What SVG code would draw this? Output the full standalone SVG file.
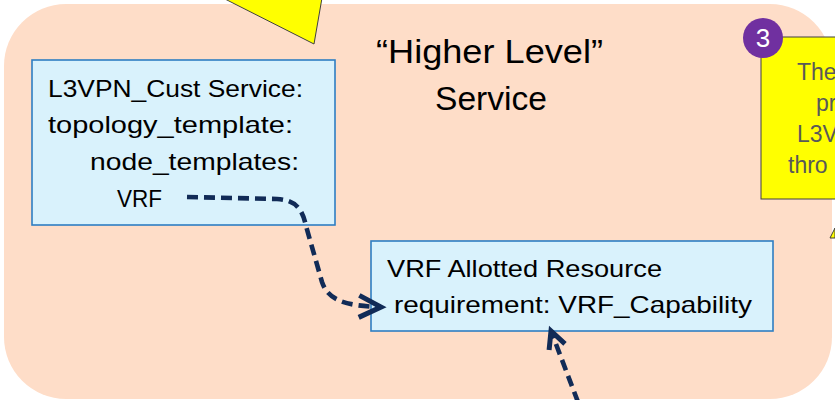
<svg xmlns="http://www.w3.org/2000/svg" width="835" height="400" viewBox="0 0 835 400">
<style>
.t{font-family:"Liberation Sans",Arial,sans-serif;fill:#000}
.box{fill:#D9F2FC;stroke:#2E7EC2;stroke-width:1.6}
.conn{fill:none;stroke:#112B57;stroke-width:4.6;stroke-dasharray:11 6}
.call{fill:#FFFF00;stroke:#404040;stroke-width:1}
.ct{font-family:"Liberation Sans",Arial,sans-serif;font-size:23px;fill:#595959}
</style>
<defs>
<marker id="ahL" markerUnits="userSpaceOnUse" orient="auto" refX="0" refY="0" markerWidth="30" markerHeight="26" viewBox="-26 -13 30 26" overflow="visible">
<path d="M-22,-11 L0,0 L-22,11" fill="none" stroke="#112B57" stroke-width="5" stroke-dasharray="none" stroke-linejoin="miter"/>
</marker>
<marker id="ahS" markerUnits="userSpaceOnUse" orient="auto" refX="0" refY="0" markerWidth="24" markerHeight="20" viewBox="-20 -10 24 20" overflow="visible">
<path d="M-17,-8.5 L0,0 L-17,8.5" fill="none" stroke="#112B57" stroke-width="5" stroke-dasharray="none" stroke-linejoin="miter"/>
</marker>
</defs>
<g id="service-area">
<rect x="4" y="4" width="828" height="395" rx="62" ry="62" fill="#FEDDC8"/>
</g>
<g id="callout-pointer">
<polygon class="call" points="223,-2 314,44 322,-2"/>
</g>
<g id="title">
<text class="t" x="376" y="63" font-size="33" textLength="227" lengthAdjust="spacingAndGlyphs">“Higher Level”</text>
<text class="t" x="435" y="110" font-size="33" textLength="112" lengthAdjust="spacingAndGlyphs">Service</text>
</g>
<g id="l3vpn-node">
<rect class="box" x="32" y="60" width="303" height="165"/>
<text class="t" x="48" y="97" font-size="24" textLength="255" lengthAdjust="spacingAndGlyphs">L3VPN_Cust Service:</text>
<text class="t" x="48" y="133" font-size="24" textLength="245" lengthAdjust="spacingAndGlyphs">topology_template:</text>
<text class="t" x="90" y="170" font-size="24" textLength="209" lengthAdjust="spacingAndGlyphs">node_templates:</text>
<text class="t" x="117" y="207" font-size="24" textLength="45" lengthAdjust="spacingAndGlyphs">VRF</text>
</g>
<g id="vrf-node">
<rect class="box" x="371" y="241" width="402" height="90"/>
<text class="t" x="387" y="277" font-size="24" textLength="275" lengthAdjust="spacingAndGlyphs">VRF Allotted Resource</text>
<text class="t" x="394" y="313" font-size="24" textLength="358" lengthAdjust="spacingAndGlyphs">requirement: VRF_Capability</text>
</g>
<g id="note-3">
<rect class="call" x="761" y="37" width="80" height="162" stroke="#7F7F7F"/>
<text class="ct" x="797" y="80">The</text>
<text class="ct" x="816" y="111">pr</text>
<text class="ct" x="797" y="142">L3V</text>
<text class="ct" x="788" y="173">thro</text>
<circle cx="763" cy="38" r="20" fill="#7030A0"/>
<text x="763" y="47" font-family="Liberation Sans,Arial,sans-serif" font-size="26" fill="#FFFFFF" text-anchor="middle">3</text>
</g>
<g id="pointer-small">
<polygon class="call" points="830,238 835,228 835,238"/>
</g>
<g id="connectors">
<path class="conn" d="M187,197 L277,199 C298,200 303,212 306,226 L322,282 C328,300 345,306 381,307" marker-end="url(#ahL)"/>
<path class="conn" d="M578,402 L551,331" marker-end="url(#ahS)"/>
</g>
</svg>
